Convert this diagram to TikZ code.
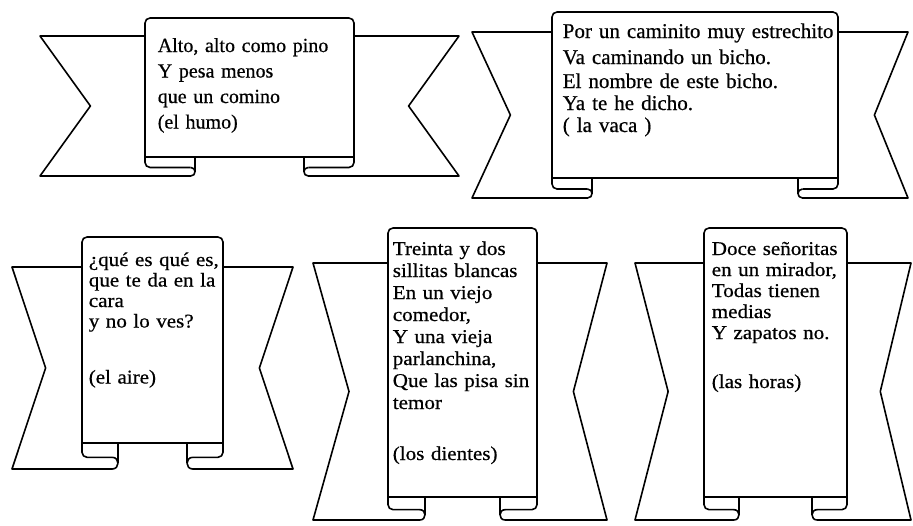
\documentclass[tikz,border=0pt]{standalone}
\usepackage{fontspec}
\setmainfont[FakeBold=0.6]{Liberation Serif}
\newfontfamily\widefont[FakeStretch=1.08, FakeBold=0.6]{Liberation Serif}

\tikzset{
	verse/.style = {anchor=base west, inner sep=0pt, align=left, text width=300pt},
	topverse/.style = {verse, font=\fontsize{#1}{25.5}\selectfont},
	lowverse/.style = {verse, font=\widefont\fontsize{19.5}{#1}\selectfont},
}

% #1 left, #2 right, #3 top, #4 panel bottom, #5 roll bottom,
% #6 ribbon top, #7 left tip, #8 right tip, #9 roll width
\newcommand{\banner}[9]{%
	\pgfmathsetmacro\bnH{#5-#4}%
	\pgfmathsetmacro\bnY{#4+0.55*\bnH}% top of the roll
	\pgfmathsetmacro\bnR{0.225*\bnH}% roll radius
	\pgfmathsetmacro\bnN{(#6+#5)/2}% notch height
	\pgfmathsetmacro\bnDL{#7+0.48*(#1-#7)}%
	\pgfmathsetmacro\bnDR{#8-0.48*(#8-#2)}%
	\pgfmathsetmacro\bnLA{#1+#9-\bnR}%
	\pgfmathsetmacro\bnRA{#2-#9+\bnR}%
	\draw[rounded corners=5pt] (\bnLA,\bnY) -- (#1,\bnY) -- (#1,#3) -- (#2,#3) -- (#2,\bnY) -- (\bnRA,\bnY); % panel
	\draw (#1,#4) -- (#2,#4); % panel bottom
	\draw (#1,#6) -- (#7,#6) -- (\bnDL,\bnN) -- (#7,#5) -- (\bnLA,#5)
		.. controls (\bnLA+1.33*\bnR,#5) and (\bnLA+1.33*\bnR,\bnY) .. (\bnLA,\bnY); % left tail
	\draw (#2,#6) -- (#8,#6) -- (\bnDR,\bnN) -- (#8,#5) -- (\bnRA,#5)
		.. controls (\bnRA-1.33*\bnR,#5) and (\bnRA-1.33*\bnR,\bnY) .. (\bnRA,\bnY); % right tail
	\draw (#1+#9,#4) -- (#1+#9,\bnY+\bnR); % left roll
	\draw (#2-#9,#4) -- (#2-#9,\bnY+\bnR); % right roll
}

\begin{document}
\begin{tikzpicture}[x=1pt, y=-1pt, line width=1.6pt, line join=round]
	\useasboundingbox (0,0) rectangle (913,525);

	% top row
	\banner{145}{354}{18}{157}{176}{36}{40}{459}{50}
	\node[topverse=20] (humo) at (157,52) {Alto, alto como pino\\ Y pesa menos\\ que un comino\\ (el humo)};

	\banner{552}{838}{12}{178}{198}{32}{472}{908}{40}
	\node[verse, font=\fontsize{21}{23}\selectfont] (vaca) at (562,38) {Por un caminito muy estrechito\\[3pt] Va caminando un bicho.\\[1pt] El nombre de este bicho.\\[-1pt] Ya te he dicho.\\[-1pt] ( la vaca )};

	% bottom row
	\banner{82}{223}{237}{443}{469}{267}{12}{293}{36}
	\node[lowverse=20.5] (aire) at (88,266) {¿qué es qué es,\\ que te da en la\\ cara\\ y no lo ves?\\[35.5pt] (el aire)};

	\banner{388}{537}{228}{497}{520}{263}{313}{607}{37}
	\node[lowverse=22] (dientes) at (392,255) {Treinta y dos\\ sillitas blancas\\ En un viejo\\ comedor,\\ Y una vieja\\ parlanchina,\\ Que las pisa sin\\ temor\\[29pt] (los dientes)};

	\banner{704}{847}{228}{497}{520}{263}{635}{911}{35}
	\node[lowverse=21] (horas) at (711,255) {Doce señoritas\\ en un mirador,\\ Todas tienen\\ medias\\ Y zapatos no.\\[28pt] (las horas)};
\end{tikzpicture}
\end{document}
